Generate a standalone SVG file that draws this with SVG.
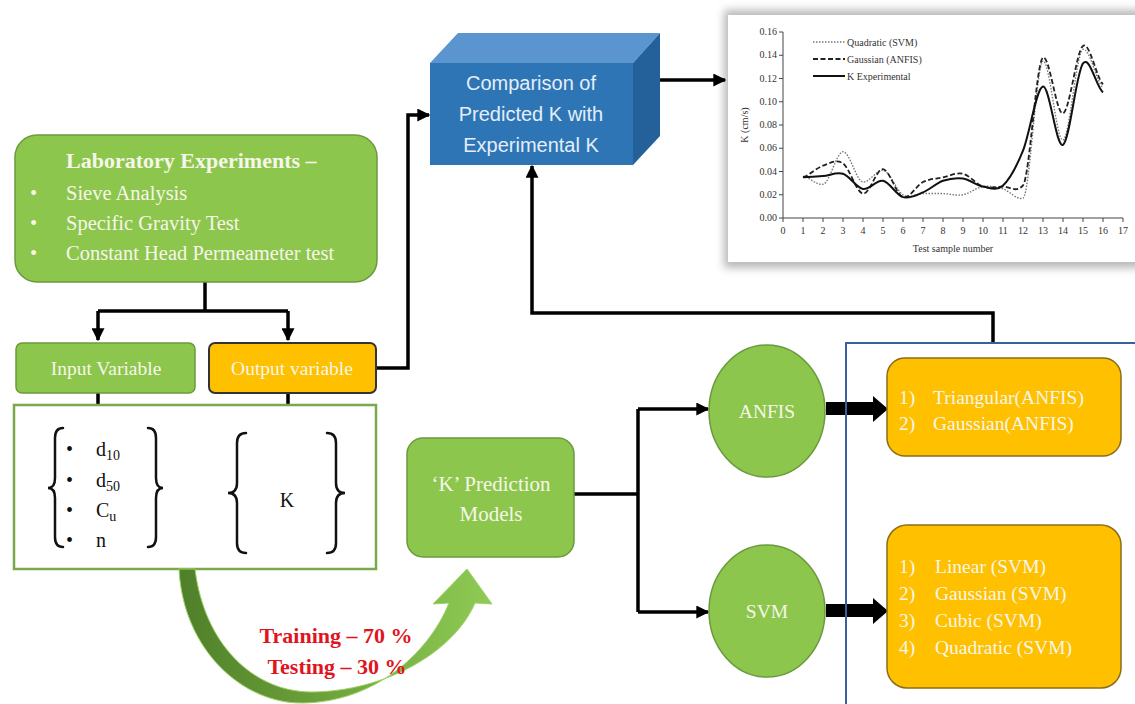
<svg xmlns="http://www.w3.org/2000/svg" width="1135" height="704" viewBox="0 0 1135 704">
<style>
.serif{font-family:"Liberation Serif","Times New Roman",serif}
.sans{font-family:"Liberation Sans",Arial,sans-serif}
.wt{fill:#f6f6ea}
.green{fill:#8dc64c;stroke:#6a9a3c;stroke-width:1.5}
.orange{fill:#ffc000;stroke:#8a6d1a;stroke-width:1.5}
.conn{fill:none;stroke:#000;stroke-width:3.5}
.brace{fill:none;stroke:#111;stroke-width:2.5;stroke-linecap:round}
.ax{font-family:"Liberation Serif","Times New Roman",serif;font-size:10px;fill:#333}
</style>
<defs>
<marker id="ah" viewBox="0 0 10 10" refX="9" refY="5" markerWidth="13" markerHeight="13" markerUnits="userSpaceOnUse" orient="auto">
<path d="M0,0 L10,5 L0,10 z" fill="#000"/>
</marker>
<linearGradient id="cg" x1="0" y1="0" x2="1" y2="0">
<stop offset="0" stop-color="#4f7f2a"/>
<stop offset="0.5" stop-color="#6fa53a"/>
<stop offset="1" stop-color="#8fcb55"/>
</linearGradient>
<filter id="sh" x="-5%" y="-10%" width="115%" height="130%">
<feGaussianBlur stdDeviation="4"/>
</filter>
</defs>
<rect width="1135" height="704" fill="#fff"/>

<!-- chart -->
<g id="chart">
<rect x="724" y="10" width="420" height="258" fill="#b8b8b8" filter="url(#sh)"/>
<rect x="728" y="15" width="407" height="247" fill="#fff"/>
<line x1="783" y1="32" x2="783" y2="218" stroke="#444" stroke-width="1"/>
<line x1="783" y1="218" x2="1123" y2="218" stroke="#444" stroke-width="1"/>
<g stroke="#444" stroke-width="1">
<line x1="779" y1="32" x2="783" y2="32"/><line x1="779" y1="55.25" x2="783" y2="55.25"/><line x1="779" y1="78.5" x2="783" y2="78.5"/><line x1="779" y1="101.75" x2="783" y2="101.75"/><line x1="779" y1="125" x2="783" y2="125"/><line x1="779" y1="148.25" x2="783" y2="148.25"/><line x1="779" y1="171.5" x2="783" y2="171.5"/><line x1="779" y1="194.75" x2="783" y2="194.75"/><line x1="779" y1="218" x2="783" y2="218"/>
</g>
<g class="ax" text-anchor="end">
<text x="777" y="35">0.16</text><text x="777" y="58">0.14</text><text x="777" y="82">0.12</text><text x="777" y="105">0.10</text><text x="777" y="128">0.08</text><text x="777" y="151">0.06</text><text x="777" y="175">0.04</text><text x="777" y="198">0.02</text><text x="777" y="221">0.00</text>
</g>
<g stroke="#444" stroke-width="1">
<line x1="783" y1="218" x2="783" y2="222"/><line x1="803" y1="218" x2="803" y2="222"/><line x1="823" y1="218" x2="823" y2="222"/><line x1="843" y1="218" x2="843" y2="222"/><line x1="863" y1="218" x2="863" y2="222"/><line x1="883" y1="218" x2="883" y2="222"/><line x1="903" y1="218" x2="903" y2="222"/><line x1="923" y1="218" x2="923" y2="222"/><line x1="943" y1="218" x2="943" y2="222"/><line x1="963" y1="218" x2="963" y2="222"/><line x1="983" y1="218" x2="983" y2="222"/><line x1="1003" y1="218" x2="1003" y2="222"/><line x1="1023" y1="218" x2="1023" y2="222"/><line x1="1043" y1="218" x2="1043" y2="222"/><line x1="1063" y1="218" x2="1063" y2="222"/><line x1="1083" y1="218" x2="1083" y2="222"/><line x1="1103" y1="218" x2="1103" y2="222"/><line x1="1123" y1="218" x2="1123" y2="222"/>
</g>
<g class="ax" text-anchor="middle">
<text x="783" y="234">0</text><text x="803" y="234">1</text><text x="823" y="234">2</text><text x="843" y="234">3</text><text x="863" y="234">4</text><text x="883" y="234">5</text><text x="903" y="234">6</text><text x="923" y="234">7</text><text x="943" y="234">8</text><text x="963" y="234">9</text><text x="983" y="234">10</text><text x="1003" y="234">11</text><text x="1023" y="234">12</text><text x="1043" y="234">13</text><text x="1063" y="234">14</text><text x="1083" y="234">15</text><text x="1103" y="234">16</text><text x="1123" y="234">17</text>
<text x="953" y="252">Test sample number</text>
<text x="0" y="0" transform="translate(748 125) rotate(-90)">K (cm/s)</text>
</g>
<path d="M803,176.1 C809.67,177.5 816.33,185.3 823,184.3 S836.33,152.08 843,151.7 S856.33,181.5 863,182 S876.33,169.8 883,170.3 S896.33,190.85 903,194.75 S916.33,193.79 923,193.6 S936.33,193.41 943,193.6 S956.33,195.92 963,194.75 S976.33,187.58 983,186.6 S996.33,186.97 1003,188.9 S1016.33,200.2 1023,198.2 S1036.33,63.1 1043,61.1 S1056.33,142.05 1063,140.1 S1076.33,51.4 1083,49.4 S1096.33,81.4 1103,87.8" fill="none" stroke="#777" stroke-width="1.4" stroke-dasharray="1.5 1.5"/>
<path d="M803,177.3 C809.67,175 816.33,168.02 823,165.7 S836.33,158.75 843,163.4 S856.33,192.63 863,193.6 S876.33,168.62 883,169.2 S896.33,194.97 903,197.1 S916.33,185.3 923,182 S936.33,178.67 943,177.3 S956.33,172.25 963,173.8 S976.33,184.47 983,186.6 S996.33,186.8 1003,186.6 S1016.33,193.4 1023,185.4 S1036.33,60.6 1043,57.6 S1056.33,115.35 1063,113.4 S1076.33,50.75 1083,45.9 S1096.33,77.9 1103,84.3" fill="none" stroke="#222" stroke-width="1.8" stroke-dasharray="5 2.5"/>
<path d="M803,177.3 C809.67,177.1 816.33,176.68 823,176.1 S836.33,171.67 843,173.8 S856.33,187.73 863,188.9 S876.33,179.43 883,180.8 S896.33,195.17 903,197.1 S916.33,195.12 923,192.4 S936.33,183.12 943,180.8 S956.33,177.53 963,178.5 S976.33,185.45 983,186.6 S996.33,191.4 1003,185.4 S1016.33,167.07 1023,150.6 S1036.33,87.57 1043,86.6 S1056.33,148.67 1063,144.8 S1076.33,72.13 1083,63.4 S1096.33,87.57 1103,92.4" fill="none" stroke="#111" stroke-width="2"/>
<line x1="813" y1="42" x2="845" y2="42" stroke="#777" stroke-width="1.4" stroke-dasharray="1.5 1.5"/>
<line x1="813" y1="59" x2="845" y2="59" stroke="#222" stroke-width="1.8" stroke-dasharray="5 2.5"/>
<line x1="813" y1="76" x2="845" y2="76" stroke="#111" stroke-width="2"/>
<text class="ax" x="847" y="45.5">Quadratic (SVM)</text>
<text class="ax" x="847" y="62.5">Gaussian (ANFIS)</text>
<text class="ax" x="847" y="79.5">K Experimental</text>
</g>

<!-- connectors -->
<g id="connectors">
<polyline class="conn" points="205,282 205,311"/>
<polyline class="conn" points="98,311 288,311"/>
<line class="conn" x1="98" y1="311" x2="98" y2="340" marker-end="url(#ah)"/>
<line class="conn" x1="288" y1="311" x2="288" y2="340" marker-end="url(#ah)"/>
<line class="conn" x1="98" y1="393" x2="98" y2="425" marker-end="url(#ah)"/>
<line class="conn" x1="288" y1="393" x2="288" y2="425" marker-end="url(#ah)"/>
<polyline class="conn" points="376,368 408,368 408,115 429,115" marker-end="url(#ah)"/>
<line class="conn" x1="660" y1="80" x2="725" y2="80" marker-end="url(#ah)"/>
<polyline class="conn" points="993,343 993,313 532,313 532,166" marker-end="url(#ah)"/>
<polyline class="conn" points="574,494 638,494"/>
<polyline class="conn" points="638,409 638,612"/>
<line class="conn" x1="638" y1="409" x2="708" y2="409" marker-end="url(#ah)"/>
<line class="conn" x1="638" y1="612" x2="708" y2="612" marker-end="url(#ah)"/>
<polygon points="826,402 873,402 873,396 888,409 873,422 873,415 826,415" fill="#000"/>
<polygon points="826,604 873,604 873,598 888,611 873,624 873,617 826,617" fill="#000"/>
</g>

<rect x="846" y="343" width="300" height="380" fill="none" stroke="#3a5f9a" stroke-width="2"/>

<g id="lab">
<rect class="green" x="15" y="135" width="362" height="147" rx="22"/>
<text class="serif wt" x="66" y="168" font-size="22" font-weight="bold">Laboratory Experiments –</text>
<g class="serif wt" font-size="20.5">
<text x="30" y="200">•</text><text x="66" y="200">Sieve Analysis</text>
<text x="30" y="230">•</text><text x="66" y="230">Specific Gravity Test</text>
<text x="30" y="260">•</text><text x="66" y="260">Constant Head Permeameter test</text>
</g>
</g>

<g id="input">
<rect class="green" x="16" y="343" width="179" height="50" rx="6"/>
<text class="serif wt" x="106" y="375" font-size="19.5" text-anchor="middle">Input Variable</text>
</g>
<g id="output">
<rect x="209" y="343" width="167" height="50" rx="6" fill="#ffc000" stroke="#333" stroke-width="2"/>
<text class="serif wt" x="292" y="375" font-size="19.5" text-anchor="middle">Output variable</text>
</g>

<g id="variables">
<rect x="14" y="405" width="362" height="164" fill="#fff" stroke="#7aa84a" stroke-width="2.5"/>
<path class="brace" d="M63,428 Q55,428 55,438 L55,478 Q55,488 48,488 Q55,488 55,498 L55,537 Q55,547 63,547"/>
<path class="brace" d="M148,428 Q156,428 156,438 L156,478 Q156,488 163,488 Q156,488 156,498 L156,537 Q156,547 148,547"/>
<g class="serif" font-size="20" fill="#111">
<text x="66" y="456">•</text><text x="96" y="456">d<tspan font-size="14" dy="4">10</tspan></text>
<text x="66" y="487">•</text><text x="96" y="487">d<tspan font-size="14" dy="4">50</tspan></text>
<text x="66" y="517">•</text><text x="96" y="517">C<tspan font-size="14" dy="4">u</tspan></text>
<text x="66" y="547">•</text><text x="96" y="547">n</text>
<text x="287" y="507" text-anchor="middle">K</text>
</g>
<path class="brace" d="M246,433 Q237,433 237,443 L237,483 Q237,493 228,493 Q237,493 237,503 L237,543 Q237,553 246,553"/>
<path class="brace" d="M327,433 Q336,433 336,443 L336,483 Q336,493 345,493 Q336,493 336,503 L336,543 Q336,553 327,553"/>
</g>

<g id="split">
<path d="M179,569 C183,650 243,704 303,703 C373,702 428,655 449,603 L433,604 L467,569 L492,604 L475,603 C454,652 385,692 310,692 C252,691 204,643 195,569 Z" fill="url(#cg)" stroke="#9fd06a" stroke-width="1"/>
<g class="serif" font-size="22" font-weight="bold" fill="#e0141e" text-anchor="middle">
<text x="336" y="643">Training – 70 %</text>
<text x="337" y="674">Testing – 30 %</text>
</g>
</g>

<g id="compare">
<polygon points="430,63 458,33 660,33 633,63" fill="#5b95cf"/>
<polygon points="633,63 660,33 660,136 633,165" fill="#24609a"/>
<rect x="430" y="63" width="203" height="102" fill="#2e75b6"/>
<g class="sans" font-size="20" fill="#e4eef8" text-anchor="middle">
<text x="531" y="90">Comparison of</text>
<text x="531" y="121">Predicted K with</text>
<text x="531" y="152">Experimental K</text>
</g>
</g>

<g id="kmodels">
<rect class="green" x="407" y="438" width="167" height="119" rx="16"/>
<text class="serif wt" x="491" y="491" font-size="21" text-anchor="middle">‘K’ Prediction</text>
<text class="serif wt" x="491" y="521" font-size="21" text-anchor="middle">Models</text>
</g>

<g id="anfis">
<ellipse class="green" cx="767" cy="411" rx="58" ry="66"/>
<text class="serif wt" x="767" y="418" font-size="19.5" text-anchor="middle">ANFIS</text>
</g>
<g id="svm">
<ellipse class="green" cx="767" cy="611" rx="58" ry="66"/>
<text class="serif wt" x="767" y="618" font-size="19.5" text-anchor="middle">SVM</text>
</g>

<g id="anfis-list">
<rect class="orange" x="887" y="358" width="234" height="98" rx="18"/>
<g class="serif wt" font-size="19.5">
<text x="899" y="404">1)</text><text x="933" y="404">Triangular(ANFIS)</text>
<text x="899" y="430">2)</text><text x="933" y="430">Gaussian(ANFIS)</text>
</g>
</g>
<g id="svm-list">
<rect class="orange" x="887" y="525" width="234" height="163" rx="20"/>
<g class="serif wt" font-size="19.5">
<text x="899" y="573">1)</text><text x="935" y="573">Linear (SVM)</text>
<text x="899" y="600">2)</text><text x="935" y="600">Gaussian (SVM)</text>
<text x="899" y="627">3)</text><text x="935" y="627">Cubic (SVM)</text>
<text x="899" y="654">4)</text><text x="935" y="654">Quadratic (SVM)</text>
</g>
</g>
</svg>
